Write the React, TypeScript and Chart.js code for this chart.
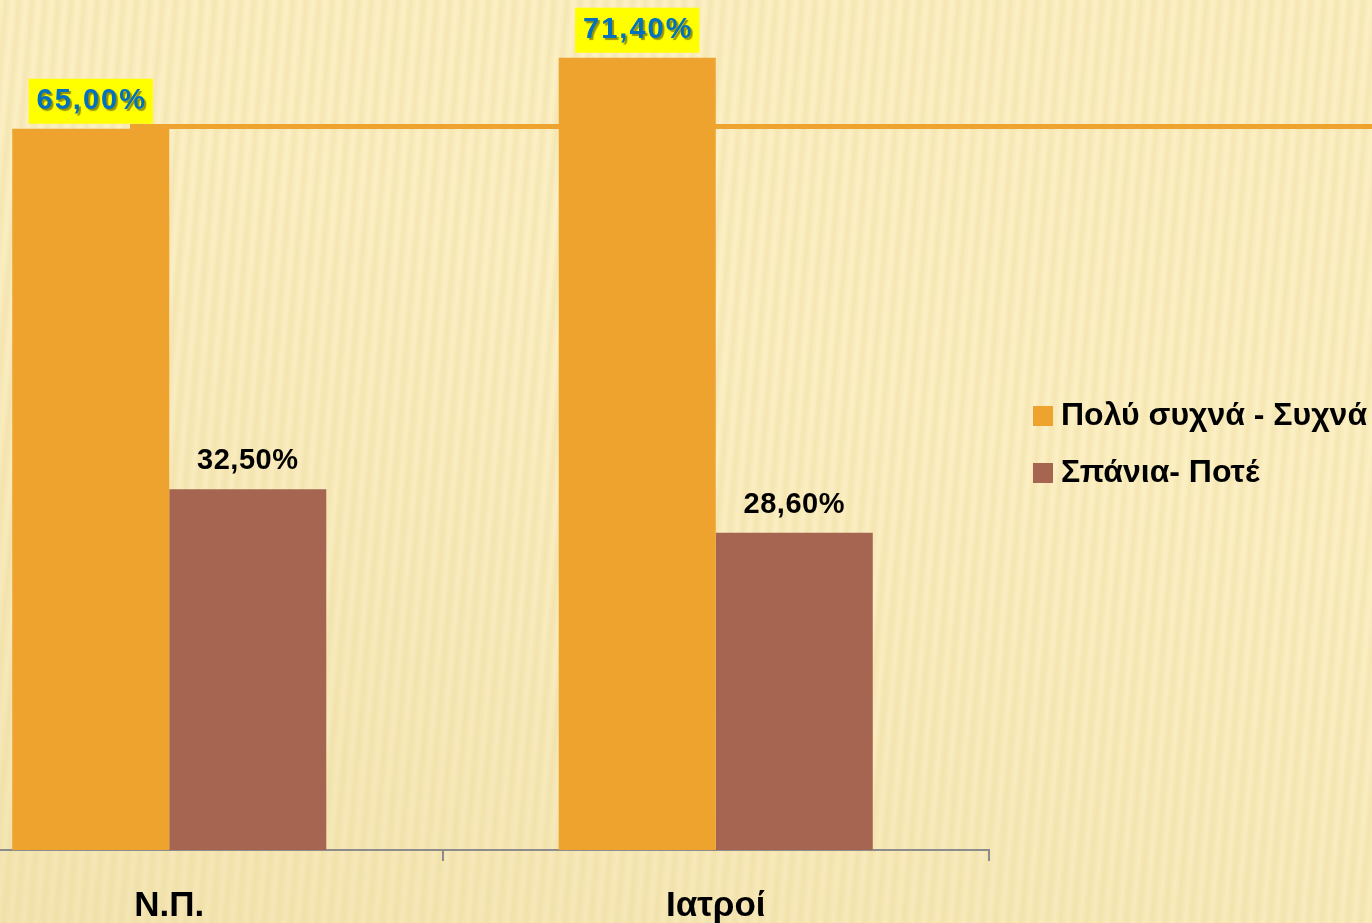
import React, { useEffect, useRef } from "react";
import { Chart, registerables } from "chart.js";

Chart.register(...registerables);

const categories = ["Ν.Π.", "Ιατροί"];
const seriesLabels = ["Πολύ συχνά - Συχνά", "Σπάνια- Ποτέ"];
const oftenValues = [65.0, 71.4];
const rarelyValues = [32.5, 28.6];

const ORANGE = "#EFA32F";
const BROWN = "#A56550";
const FONT = "'Liberation Sans', Arial, sans-serif";

const PAGE_W = 1372;
const PAGE_H = 923;
const SHIFT = 104; // first category partly cut off at the left edge
const CANVAS_W = PAGE_W + SHIFT;
const RIGHT_PAD = PAGE_W - 989;

const fmt = (v: number) => v.toFixed(2).replace(".", ",") + "%";

const decorPlugin = {
  id: "decor",
  beforeDatasetsDraw(chart: any) {
    const { ctx, chartArea } = chart;
    ctx.save();
    ctx.fillStyle = ORANGE;
    ctx.fillRect(chartArea.left + SHIFT + 130, chartArea.top + 124, chart.width, 5);
    ctx.restore();
  },
};

const labelPlugin = {
  id: "valueLabels",
  afterDatasetsDraw(chart: any) {
    const { ctx } = chart;
    ctx.save();
    ctx.textAlign = "center";
    ctx.textBaseline = "middle";
    chart.data.datasets.forEach((ds: any, di: number) => {
      const meta = chart.getDatasetMeta(di);
      meta.data.forEach((bar: any, i: number) => {
        const text = fmt(ds.data[i]);
        const x = bar.x;
        const y = bar.y - 28;
        if (di === 0) {
          ctx.font = `bold 29px ${FONT}`;
          (ctx as any).letterSpacing = "2px";
          const w = ctx.measureText(text).width + 14;
          ctx.fillStyle = "#FFFF00";
          ctx.fillRect(x - w / 2, y - 22, w, 45);
          ctx.shadowColor = "rgba(60,60,0,0.55)";
          ctx.shadowOffsetX = 2;
          ctx.shadowOffsetY = 2;
          ctx.shadowBlur = 1;
          ctx.fillStyle = "#0070C0";
          ctx.fillText(text, x + 1, y);
          ctx.shadowColor = "transparent";
          ctx.shadowOffsetX = 0;
          ctx.shadowOffsetY = 0;
          ctx.shadowBlur = 0;
        } else {
          ctx.font = `bold 29px ${FONT}`;
          (ctx as any).letterSpacing = "0.5px";
          ctx.fillStyle = "#000000";
          ctx.fillText(text, x, y);
        }
      });
    });
    ctx.restore();
  },
};

const legendPlugin = {
  id: "customLegend",
  afterDraw(chart: any) {
    const { ctx, chartArea } = chart;
    ctx.save();
    ctx.font = `bold 32px ${FONT}`;
    ctx.textAlign = "left";
    ctx.textBaseline = "middle";
    const x0 = chartArea.right + 44;
    const y0 = 406;
    chart.data.datasets.forEach((ds: any, i: number) => {
      const y = y0 + i * 57;
      ctx.fillStyle = ds.backgroundColor;
      ctx.fillRect(x0, y, 20, 20);
      ctx.fillStyle = "#000000";
      ctx.fillText(ds.label, x0 + 28, y + 10);
    });
    ctx.restore();
  },
};

export default function App() {
  const ref = useRef<HTMLCanvasElement>(null);

  useEffect(() => {
    if (!ref.current) return;
    const chart = new Chart(ref.current, {
      type: "bar",
      data: {
        labels: categories,
        datasets: [
          { label: seriesLabels[0], data: oftenValues, backgroundColor: ORANGE, categoryPercentage: 0.5746, barPercentage: 1 },
          { label: seriesLabels[1], data: rarelyValues, backgroundColor: BROWN, categoryPercentage: 0.5746, barPercentage: 1 },
        ],
      },
      options: {
        responsive: false,
        animation: false,
        layout: { padding: { left: 0, right: RIGHT_PAD, top: 0, bottom: 0 } },
        plugins: { legend: { display: false }, tooltip: { enabled: false } },
        scales: {
          y: { display: false, min: 0, max: 76.6 },
          x: {
            afterFit: (scale: any) => {
              scale.height = 73;
            },
            grid: {
              display: true,
              offset: true,
              drawOnChartArea: false,
              drawTicks: true,
              tickLength: 11,
              color: "#8C8C8C",
              lineWidth: 2,
            },
            border: { display: true, color: "#8C8C8C", width: 2 },
            ticks: {
              color: "#000000",
              font: { family: FONT, size: 35, weight: "bold" },
              padding: 24,
              maxRotation: 0,
            },
          },
        },
      },
      plugins: [decorPlugin, labelPlugin, legendPlugin],
    });
    return () => chart.destroy();
  }, []);

  return (
    <div
      style={{
        position: "absolute",
        left: 0,
        top: 0,
        width: PAGE_W,
        height: PAGE_H,
        overflow: "hidden",
        backgroundColor: "#FCF0C5",
        backgroundImage:
          "repeating-linear-gradient(95deg, rgba(235,215,150,0) 0px, rgba(232,212,145,0.35) 6px, rgba(235,215,150,0) 13px), linear-gradient(20deg, rgba(225,205,140,0.3), rgba(252,240,197,0) 60%)",
      }}
    >
      <canvas
        ref={ref}
        width={CANVAS_W}
        height={PAGE_H}
        style={{ position: "absolute", left: -SHIFT, top: 0, width: CANVAS_W, height: PAGE_H }}
      />
    </div>
  );
}
